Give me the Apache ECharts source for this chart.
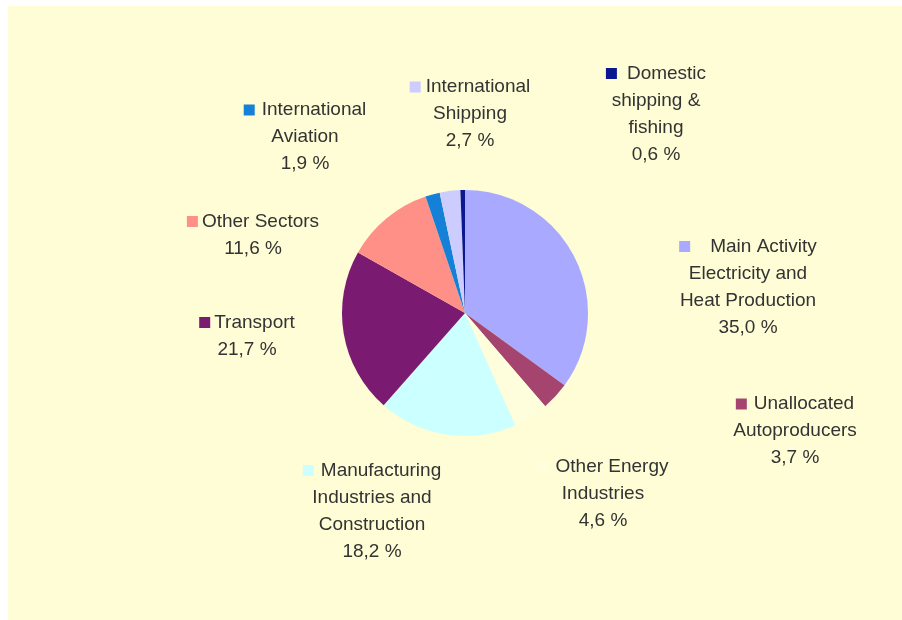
<!DOCTYPE html>
<html>
<head>
<meta charset="utf-8">
<script src="https://cdn.jsdelivr.net/npm/echarts@6/dist/echarts.min.js"></script>
<style>
html,body{margin:0;padding:0;background:#ffffff;}
#chart{width:902px;height:620px;}
</style>
</head>
<body>
<div id="chart"></div>
<script>
// ---- data ----
var categories = [
  "Main Activity\nElectricity and\nHeat Production",
  "Unallocated\nAutoproducers",
  "Other Energy\nIndustries",
  "Manufacturing\nIndustries and\nConstruction",
  "Transport",
  "Other Sectors",
  "International\nAviation",
  "International\nShipping",
  "Domestic\nshipping &\nfishing"
];
var values = [35.0, 3.7, 4.6, 18.2, 21.7, 11.6, 1.9, 2.7, 0.6];

// ---- styles / label placement ----
var colors = ["#A9A9FF", "#A5446F", "#FFFEDC", "#CCFFFF", "#7B1A71", "#FF9088", "#1480D8", "#CCCCFF", "#0B1790"];
var labelX = [748, 795, 603, 372, 247, 253, 305, 470, 656];
var labelY = [287, 431, 494, 511, 336, 235, 137, 114, 114];
var keyGap = [20, 7, 7, 7, 4, 4, 7, 5, 10];

var rich = {
  t: {fontSize: 19, fontFamily: "Liberation Sans, Arial, sans-serif", color: "#333333", lineHeight: 27, verticalAlign: "middle"}
};
colors.forEach(function (c, i) {
  rich["s" + i] = {width: 11, height: 11, backgroundColor: c, verticalAlign: "middle"};
  rich["g" + i] = {width: keyGap[i], height: 11};
});

var chart = echarts.init(document.getElementById("chart"), null, {renderer: "canvas"});
chart.setOption({
  backgroundColor: "#ffffff",
  animation: false,
  graphic: [{
    type: "rect", z: -100, silent: true,
    shape: {x: 8, y: 6, width: 894, height: 614},
    style: {fill: "#FEFDD6"}
  }],
  series: [{
    type: "pie",
    center: [465, 313],
    radius: 123,
    startAngle: 90,
    clockwise: true,
    avoidLabelOverlap: false,
    itemStyle: {borderWidth: 0},
    emphasis: {disabled: true},
    labelLine: {show: false},
    label: {
      show: true,
      position: "outside",
      align: "center",
      rich: rich,
      formatter: function (p) {
        var i = p.dataIndex;
        var lines = categories[i].split("\n");
        var out = ["{s" + i + "|}{g" + i + "|}{t|" + lines[0] + "}"];
        for (var k = 1; k < lines.length; k++) out.push("{t|" + lines[k] + "}");
        out.push("{t|" + values[i].toFixed(1).replace(".", ",") + " %}");
        return out.join("\n");
      }
    },
    labelLayout: function (p) {
      return {x: labelX[p.dataIndex], y: labelY[p.dataIndex], align: "center", verticalAlign: "middle"};
    },
    data: categories.map(function (c, i) {
      return {name: c, value: values[i], itemStyle: {color: colors[i]}};
    })
  }]
});
</script>
</body>
</html>
